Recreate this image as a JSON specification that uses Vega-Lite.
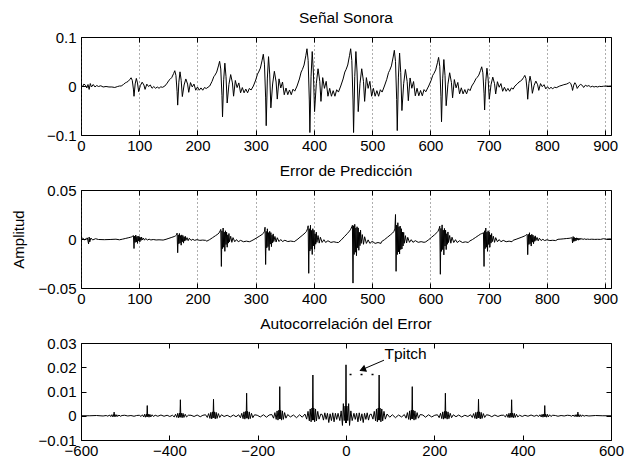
{
"$schema": "https://vega.github.io/schema/vega-lite/v6.json",
"background": "white",
"padding": {"left": 10, "top": 10, "right": 5, "bottom": 5},
"bounds": "flush",
"spacing": 55,
"config": {
 "font": "Liberation Sans",
 "view": {"stroke": "black", "strokeWidth": 1},
 "axis": {"domain": false, "grid": false, "tickColor": "black", "tickSize": -5, "tickWidth": 1, "labelColor": "black", "labelFontSize": 15, "labelFont": "Liberation Sans", "labelPadding": 10, "labelFlush": false, "labelOverlap": false, "titleFont": "Liberation Sans", "titleFontSize": 15, "titleFontWeight": "normal", "titleColor": "black", "titlePadding": 12, "format": "~g"},
 "axisX": {"labelPadding": 8, "format": "d"},
 "title": {"font": "Liberation Sans", "fontSize": 15.5, "fontWeight": "normal", "color": "black", "offset": 4, "frame": "group", "anchor": "middle"}
},
"datasets": {
"s": [
{"x":0,"y":0.002},{"x":3,"y":-0.001},{"x":5,"y":0.004},{"x":8,"y":0.001},{"x":10,"y":-0.004},{"x":12,"y":0.003},{"x":14,"y":-0.007},{"x":16,"y":0.005},{"x":18,"y":-0.002},{"x":21,"y":0.003},{"x":24,"y":-0.002},{"x":27,"y":0.001},{"x":30,"y":-0.001},{"x":34,"y":0.0005},{"x":38,"y":-0.002},{"x":43,"y":-0.001},{"x":48,"y":-0.002},{"x":53,"y":-0.002},{"x":58,"y":-0.003},{"x":63,"y":-0.001},{"x":66,"y":0},
{"x":69,"y":0},{"x":73,"y":0.0032},{"x":76,"y":0.0063},{"x":78,"y":0.0074},{"x":81,"y":0.0095},{"x":84,"y":0.0137},{"x":86,"y":0.0168},{"x":88,"y":0.0116},{"x":90,"y":-0.0063},{"x":91,"y":-0.021},{"x":93,"y":0.0042},{"x":95,"y":0.0155},{"x":97,"y":0.0063},{"x":99,"y":-0.0116},{"x":102,"y":0.0011},{"x":105,"y":0.0078},{"x":108,"y":0.0021},{"x":110,"y":-0.0069},{"x":113,"y":0.0038},{"x":116,"y":-0.0011},{"x":119,"y":0.0021},{"x":122,"y":-0.0046},{"x":125,"y":-0.0011},{"x":128,"y":-0.0046},{"x":131,"y":-0.0021},{"x":134,"y":-0.0046},{"x":137,"y":-0.0017},{"x":140,"y":-0.0027},
{"x":144,"y":0},{"x":148,"y":0.0059},{"x":151,"y":0.0117},{"x":153,"y":0.0137},{"x":156,"y":0.0176},{"x":159,"y":0.0254},{"x":161,"y":0.0312},{"x":163,"y":0.0215},{"x":165,"y":-0.0117},{"x":166,"y":-0.039},{"x":168,"y":0.0078},{"x":170,"y":0.0289},{"x":172,"y":0.0117},{"x":174,"y":-0.0215},{"x":177,"y":0.002},{"x":180,"y":0.0144},{"x":183,"y":0.0039},{"x":185,"y":-0.0129},{"x":188,"y":0.007},{"x":191,"y":-0.002},{"x":194,"y":0.0039},{"x":197,"y":-0.0086},{"x":200,"y":-0.002},{"x":203,"y":-0.0086},{"x":206,"y":-0.0039},{"x":209,"y":-0.0086},{"x":212,"y":-0.0031},{"x":215,"y":-0.0051},
{"x":221,"y":0},{"x":225,"y":0.0095},{"x":228,"y":0.0189},{"x":230,"y":0.0221},{"x":233,"y":0.0284},{"x":236,"y":0.041},{"x":238,"y":0.0504},{"x":240,"y":0.0347},{"x":242,"y":-0.0189},{"x":243,"y":-0.063},{"x":245,"y":0.0126},{"x":247,"y":0.0466},{"x":249,"y":0.0189},{"x":251,"y":-0.0347},{"x":254,"y":0.0032},{"x":257,"y":0.0233},{"x":260,"y":0.0063},{"x":262,"y":-0.0208},{"x":265,"y":0.0113},{"x":268,"y":-0.0032},{"x":271,"y":0.0063},{"x":274,"y":-0.0139},{"x":277,"y":-0.0032},{"x":280,"y":-0.0139},{"x":283,"y":-0.0063},{"x":286,"y":-0.0139},{"x":289,"y":-0.005},{"x":292,"y":-0.0082},
{"x":296,"y":0},{"x":300,"y":0.0122},{"x":303,"y":0.0243},{"x":305,"y":0.0284},{"x":308,"y":0.0365},{"x":311,"y":0.0527},{"x":313,"y":0.0648},{"x":315,"y":0.0446},{"x":317,"y":-0.0243},{"x":318,"y":-0.081},{"x":320,"y":0.0162},{"x":322,"y":0.0599},{"x":324,"y":0.0243},{"x":326,"y":-0.0446},{"x":329,"y":0.0041},{"x":332,"y":0.03},{"x":335,"y":0.0081},{"x":337,"y":-0.0267},{"x":340,"y":0.0146},{"x":343,"y":-0.0041},{"x":346,"y":0.0081},{"x":349,"y":-0.0178},{"x":352,"y":-0.0041},{"x":355,"y":-0.0178},{"x":358,"y":-0.0081},{"x":361,"y":-0.0178},{"x":364,"y":-0.0065},{"x":367,"y":-0.0105},
{"x":371,"y":0},{"x":375,"y":0.0143},{"x":378,"y":0.0285},{"x":380,"y":0.0333},{"x":383,"y":0.0428},{"x":386,"y":0.0618},{"x":388,"y":0.076},{"x":390,"y":0.0523},{"x":392,"y":-0.0285},{"x":393,"y":-0.095},{"x":395,"y":0.019},{"x":397,"y":0.0703},{"x":399,"y":0.0285},{"x":401,"y":-0.0523},{"x":404,"y":0.0048},{"x":407,"y":0.0352},{"x":410,"y":0.0095},{"x":412,"y":-0.0314},{"x":415,"y":0.0171},{"x":418,"y":-0.0048},{"x":421,"y":0.0095},{"x":424,"y":-0.0209},{"x":427,"y":-0.0048},{"x":430,"y":-0.0209},{"x":433,"y":-0.0095},{"x":436,"y":-0.0209},{"x":439,"y":-0.0076},{"x":442,"y":-0.0124},
{"x":446,"y":0},{"x":450,"y":0.0143},{"x":453,"y":0.0285},{"x":455,"y":0.0333},{"x":458,"y":0.0428},{"x":461,"y":0.0618},{"x":463,"y":0.076},{"x":465,"y":0.0523},{"x":467,"y":-0.0285},{"x":468,"y":-0.095},{"x":470,"y":0.019},{"x":472,"y":0.0703},{"x":474,"y":0.0285},{"x":476,"y":-0.0523},{"x":479,"y":0.0048},{"x":482,"y":0.0352},{"x":485,"y":0.0095},{"x":487,"y":-0.0314},{"x":490,"y":0.0171},{"x":493,"y":-0.0048},{"x":496,"y":0.0095},{"x":499,"y":-0.0209},{"x":502,"y":-0.0048},{"x":505,"y":-0.0209},{"x":508,"y":-0.0095},{"x":511,"y":-0.0209},{"x":514,"y":-0.0076},{"x":517,"y":-0.0124},
{"x":521,"y":0},{"x":525,"y":0.0137},{"x":528,"y":0.0273},{"x":530,"y":0.0319},{"x":533,"y":0.041},{"x":536,"y":0.0592},{"x":538,"y":0.0728},{"x":540,"y":0.0501},{"x":542,"y":-0.0273},{"x":543,"y":-0.091},{"x":545,"y":0.0182},{"x":547,"y":0.0673},{"x":549,"y":0.0273},{"x":551,"y":-0.0501},{"x":554,"y":0.0046},{"x":557,"y":0.0337},{"x":560,"y":0.0091},{"x":562,"y":-0.03},{"x":565,"y":0.0164},{"x":568,"y":-0.0046},{"x":571,"y":0.0091},{"x":574,"y":-0.02},{"x":577,"y":-0.0046},{"x":580,"y":-0.02},{"x":583,"y":-0.0091},{"x":586,"y":-0.02},{"x":589,"y":-0.0073},{"x":592,"y":-0.0118},
{"x":597,"y":0},{"x":601,"y":0.011},{"x":604,"y":0.0219},{"x":606,"y":0.0256},{"x":609,"y":0.0329},{"x":612,"y":0.0475},{"x":614,"y":0.0584},{"x":616,"y":0.0402},{"x":618,"y":-0.0219},{"x":619,"y":-0.073},{"x":621,"y":0.0146},{"x":623,"y":0.054},{"x":625,"y":0.0219},{"x":627,"y":-0.0402},{"x":630,"y":0.0037},{"x":633,"y":0.027},{"x":636,"y":0.0073},{"x":638,"y":-0.0241},{"x":641,"y":0.0131},{"x":644,"y":-0.0037},{"x":647,"y":0.0073},{"x":650,"y":-0.0161},{"x":653,"y":-0.0037},{"x":656,"y":-0.0161},{"x":659,"y":-0.0073},{"x":662,"y":-0.0161},{"x":665,"y":-0.0058},{"x":668,"y":-0.0095},
{"x":671,"y":0},{"x":675,"y":0.0074},{"x":678,"y":0.0147},{"x":680,"y":0.0172},{"x":683,"y":0.0221},{"x":686,"y":0.0319},{"x":688,"y":0.0392},{"x":690,"y":0.027},{"x":692,"y":-0.0147},{"x":693,"y":-0.049},{"x":695,"y":0.0098},{"x":697,"y":0.0363},{"x":699,"y":0.0147},{"x":701,"y":-0.027},{"x":704,"y":0.0025},{"x":707,"y":0.0181},{"x":710,"y":0.0049},{"x":712,"y":-0.0162},{"x":715,"y":0.0088},{"x":718,"y":-0.0025},{"x":721,"y":0.0049},{"x":724,"y":-0.0108},{"x":727,"y":-0.0025},{"x":730,"y":-0.0108},{"x":733,"y":-0.0049},{"x":736,"y":-0.0108},{"x":739,"y":-0.0039},{"x":742,"y":-0.0064},
{"x":745,"y":0},{"x":749,"y":0.0041},{"x":752,"y":0.0081},{"x":754,"y":0.0095},{"x":757,"y":0.0122},{"x":760,"y":0.0176},{"x":762,"y":0.0216},{"x":764,"y":0.0149},{"x":766,"y":-0.0081},{"x":767,"y":-0.027},{"x":769,"y":0.0054},{"x":771,"y":0.02},{"x":773,"y":0.0081},{"x":775,"y":-0.0149},{"x":778,"y":0.0014},{"x":781,"y":0.01},{"x":784,"y":0.0027},{"x":786,"y":-0.0089},{"x":789,"y":0.0049},{"x":792,"y":-0.0014},{"x":795,"y":0.0027},{"x":798,"y":-0.0059},{"x":801,"y":-0.0014},{"x":804,"y":-0.0059},{"x":807,"y":-0.0027},{"x":810,"y":-0.0059},{"x":813,"y":-0.0022},{"x":816,"y":-0.0035},
{"x":822,"y":0},{"x":826,"y":0.0014},{"x":829,"y":0.0027},{"x":831,"y":0.0032},{"x":834,"y":0.0041},{"x":837,"y":0.0059},{"x":839,"y":0.0072},{"x":841,"y":0.005},{"x":843,"y":-0.0027},{"x":844,"y":-0.009},{"x":846,"y":0.0018},{"x":848,"y":0.0067},{"x":850,"y":0.0027},{"x":852,"y":-0.005},{"x":855,"y":0.0005},{"x":858,"y":0.0033},{"x":861,"y":0.0009},{"x":863,"y":-0.003},{"x":866,"y":0.0016},{"x":869,"y":-0.0005},{"x":872,"y":0.0009},{"x":875,"y":-0.002},{"x":878,"y":-0.0005},{"x":881,"y":-0.002},{"x":884,"y":-0.0009},{"x":887,"y":-0.002},{"x":890,"y":-0.0007},{"x":893,"y":-0.0012},
{"x":897,"y":-0.0005},{"x":902,"y":0},{"x":906,"y":-0.0003},{"x":910,"y":0}
],
"e": [
{"x":0,"y":0},{"x":3,"y":0.001},{"x":6,"y":-0.001},{"x":9,"y":0.0005},{"x":11,"y":0.001},{"x":13,"y":-0.005},{"x":14,"y":0.002},{"x":15,"y":-0.003},{"x":17,"y":0.001},{"x":20,"y":-0.001},{"x":25,"y":0.0003},{"x":30,"y":-0.0005},{"x":40,"y":-0.0007},{"x":50,"y":-0.0005},{"x":60,"y":-0.0002},
{"x":66,"y":-0.0008},{"x":71,"y":-0.0002},{"x":76,"y":0.0005},{"x":81,"y":0.0012},{"x":85,"y":0.0018},{"x":87,"y":0.0022},{"x":89,"y":0.003},{"x":90,"y":0.0035},{"x":91,"y":-0.0097},{"x":92,"y":0.003},{"x":93,"y":-0.0035},{"x":94,"y":0.004},{"x":95,"y":-0.003},{"x":96,"y":0.0025},{"x":97,"y":-0.0045},{"x":98,"y":0.003},{"x":99,"y":-0.002},{"x":100,"y":0.0025},{"x":101,"y":-0.003},{"x":102,"y":0.0015},{"x":103,"y":-0.0015},{"x":104,"y":0.002},{"x":105,"y":-0.001},{"x":107,"y":0.001},{"x":109,"y":-0.0012},{"x":111,"y":0.0005},{"x":114,"y":-0.001},{"x":117,"y":-0.0002},{"x":120,"y":-0.001},{"x":124,"y":-0.0005},{"x":129,"y":-0.001},{"x":134,"y":-0.0008},{"x":139,"y":-0.001},
{"x":141,"y":-0.0011},{"x":146,"y":-0.0003},{"x":151,"y":0.0007},{"x":156,"y":0.0017},{"x":160,"y":0.0025},{"x":162,"y":0.0031},{"x":164,"y":0.0042},{"x":165,"y":0.006},{"x":166,"y":-0.014},{"x":167,"y":0.0042},{"x":168,"y":-0.0049},{"x":169,"y":0.0056},{"x":170,"y":-0.0042},{"x":171,"y":0.0035},{"x":172,"y":-0.0063},{"x":173,"y":0.0042},{"x":174,"y":-0.0028},{"x":175,"y":0.0035},{"x":176,"y":-0.0042},{"x":177,"y":0.0021},{"x":178,"y":-0.0021},{"x":179,"y":0.0028},{"x":180,"y":-0.0014},{"x":182,"y":0.0014},{"x":184,"y":-0.0017},{"x":186,"y":0.0007},{"x":189,"y":-0.0014},{"x":192,"y":-0.0003},{"x":195,"y":-0.0014},{"x":199,"y":-0.0007},{"x":204,"y":-0.0014},{"x":209,"y":-0.0011},{"x":214,"y":-0.0014},
{"x":216,"y":-0.0022},{"x":221,"y":-0.0006},{"x":226,"y":0.0014},{"x":231,"y":0.0034},{"x":235,"y":0.005},{"x":237,"y":0.0062},{"x":239,"y":0.0084},{"x":240,"y":0.0098},{"x":241,"y":-0.028},{"x":242,"y":0.0084},{"x":243,"y":-0.0098},{"x":244,"y":0.0112},{"x":245,"y":-0.0084},{"x":246,"y":0.007},{"x":247,"y":-0.0126},{"x":248,"y":0.0084},{"x":249,"y":-0.0056},{"x":250,"y":0.007},{"x":251,"y":-0.0084},{"x":252,"y":0.0042},{"x":253,"y":-0.0042},{"x":254,"y":0.0056},{"x":255,"y":-0.0028},{"x":257,"y":0.0028},{"x":259,"y":-0.0034},{"x":261,"y":0.0014},{"x":264,"y":-0.0028},{"x":267,"y":-0.0006},{"x":270,"y":-0.0028},{"x":274,"y":-0.0014},{"x":279,"y":-0.0028},{"x":284,"y":-0.0022},{"x":289,"y":-0.0028},
{"x":292,"y":-0.0021},{"x":297,"y":-0.0005},{"x":302,"y":0.0013},{"x":307,"y":0.0031},{"x":311,"y":0.0047},{"x":313,"y":0.0057},{"x":315,"y":0.0078},{"x":316,"y":0.012},{"x":317,"y":-0.026},{"x":318,"y":0.0078},{"x":319,"y":-0.0091},{"x":320,"y":0.0104},{"x":321,"y":-0.0078},{"x":322,"y":0.0065},{"x":323,"y":-0.0117},{"x":324,"y":0.0078},{"x":325,"y":-0.0052},{"x":326,"y":0.0065},{"x":327,"y":-0.0078},{"x":328,"y":0.0039},{"x":329,"y":-0.0039},{"x":330,"y":0.0052},{"x":331,"y":-0.0026},{"x":333,"y":0.0026},{"x":335,"y":-0.0031},{"x":337,"y":0.0013},{"x":340,"y":-0.0026},{"x":343,"y":-0.0005},{"x":346,"y":-0.0026},{"x":350,"y":-0.0013},{"x":355,"y":-0.0026},{"x":360,"y":-0.0021},{"x":365,"y":-0.0026},
{"x":366,"y":-0.0028},{"x":371,"y":-0.0007},{"x":376,"y":0.0018},{"x":381,"y":0.0042},{"x":385,"y":0.0063},{"x":387,"y":0.0077},{"x":389,"y":0.0105},{"x":390,"y":0.0135},{"x":391,"y":-0.035},{"x":392,"y":0.0105},{"x":393,"y":-0.0123},{"x":394,"y":0.014},{"x":395,"y":-0.0105},{"x":396,"y":0.0088},{"x":397,"y":-0.0158},{"x":398,"y":0.0105},{"x":399,"y":-0.007},{"x":400,"y":0.0088},{"x":401,"y":-0.0105},{"x":402,"y":0.0053},{"x":403,"y":-0.0053},{"x":404,"y":0.007},{"x":405,"y":-0.0035},{"x":407,"y":0.0035},{"x":409,"y":-0.0042},{"x":411,"y":0.0018},{"x":414,"y":-0.0035},{"x":417,"y":-0.0007},{"x":420,"y":-0.0035},{"x":424,"y":-0.0018},{"x":429,"y":-0.0035},{"x":434,"y":-0.0028},{"x":439,"y":-0.0035},
{"x":442,"y":-0.0036},{"x":447,"y":-0.0009},{"x":452,"y":0.0023},{"x":457,"y":0.0054},{"x":461,"y":0.0081},{"x":463,"y":0.0099},{"x":465,"y":0.0125},{"x":466,"y":0.014},{"x":467,"y":-0.045},{"x":468,"y":0.0135},{"x":469,"y":-0.0158},{"x":470,"y":0.015},{"x":471,"y":-0.0135},{"x":472,"y":0.0113},{"x":473,"y":-0.017},{"x":474,"y":0.0125},{"x":475,"y":-0.009},{"x":476,"y":0.0113},{"x":477,"y":-0.0115},{"x":478,"y":0.0068},{"x":479,"y":-0.0068},{"x":480,"y":0.009},{"x":481,"y":-0.0045},{"x":483,"y":0.0045},{"x":485,"y":-0.0054},{"x":487,"y":0.0023},{"x":490,"y":-0.0045},{"x":493,"y":-0.0009},{"x":496,"y":-0.0045},{"x":500,"y":-0.0023},{"x":505,"y":-0.0045},{"x":510,"y":-0.0036},{"x":515,"y":-0.0045},
{"x":516,"y":-0.0027},{"x":521,"y":-0.0007},{"x":526,"y":0.0017},{"x":531,"y":0.0041},{"x":535,"y":0.0061},{"x":537,"y":0.0075},{"x":539,"y":0.0102},{"x":540,"y":0.025},{"x":541,"y":-0.033},{"x":542,"y":0.0142},{"x":543,"y":-0.0159},{"x":544,"y":0.0166},{"x":545,"y":-0.0132},{"x":546,"y":0.0125},{"x":547,"y":-0.0153},{"x":548,"y":0.0132},{"x":549,"y":-0.0108},{"x":550,"y":0.0105},{"x":551,"y":-0.0102},{"x":552,"y":0.0071},{"x":553,"y":-0.0071},{"x":554,"y":0.0068},{"x":555,"y":-0.0044},{"x":557,"y":0.0034},{"x":559,"y":-0.0041},{"x":561,"y":0.0017},{"x":564,"y":-0.0034},{"x":567,"y":-0.0007},{"x":570,"y":-0.0034},{"x":574,"y":-0.0017},{"x":579,"y":-0.0034},{"x":584,"y":-0.0027},{"x":589,"y":-0.0034},
{"x":592,"y":-0.0029},{"x":597,"y":-0.0007},{"x":602,"y":0.0018},{"x":607,"y":0.0043},{"x":611,"y":0.0065},{"x":613,"y":0.0079},{"x":615,"y":0.0108},{"x":616,"y":0.013},{"x":617,"y":-0.036},{"x":618,"y":0.0108},{"x":619,"y":-0.0126},{"x":620,"y":0.0144},{"x":621,"y":-0.0108},{"x":622,"y":0.009},{"x":623,"y":-0.0162},{"x":624,"y":0.0108},{"x":625,"y":-0.0072},{"x":626,"y":0.009},{"x":627,"y":-0.0108},{"x":628,"y":0.0054},{"x":629,"y":-0.0054},{"x":630,"y":0.0072},{"x":631,"y":-0.0036},{"x":633,"y":0.0036},{"x":635,"y":-0.0043},{"x":637,"y":0.0018},{"x":640,"y":-0.0036},{"x":643,"y":-0.0007},{"x":646,"y":-0.0036},{"x":650,"y":-0.0018},{"x":655,"y":-0.0036},{"x":660,"y":-0.0029},{"x":665,"y":-0.0036},
{"x":667,"y":-0.0022},{"x":672,"y":-0.0006},{"x":677,"y":0.0014},{"x":682,"y":0.0034},{"x":686,"y":0.005},{"x":688,"y":0.0055},{"x":690,"y":0.006},{"x":691,"y":0.0065},{"x":692,"y":-0.028},{"x":693,"y":0.0084},{"x":694,"y":-0.0098},{"x":695,"y":0.0112},{"x":696,"y":-0.0084},{"x":697,"y":0.007},{"x":698,"y":-0.0126},{"x":699,"y":0.0084},{"x":700,"y":-0.0056},{"x":701,"y":0.007},{"x":702,"y":-0.0084},{"x":703,"y":0.0042},{"x":704,"y":-0.0042},{"x":705,"y":0.0056},{"x":706,"y":-0.0028},{"x":708,"y":0.0028},{"x":710,"y":-0.0034},{"x":712,"y":0.0014},{"x":715,"y":-0.0028},{"x":718,"y":-0.0006},{"x":721,"y":-0.0028},{"x":725,"y":-0.0014},{"x":730,"y":-0.0028},{"x":735,"y":-0.0022},{"x":740,"y":-0.0028},
{"x":742,"y":-0.0013},{"x":747,"y":-0.0003},{"x":752,"y":0.0008},{"x":757,"y":0.0019},{"x":761,"y":0.0029},{"x":763,"y":0.0035},{"x":765,"y":0.0045},{"x":766,"y":0.0045},{"x":767,"y":-0.016},{"x":768,"y":0.0048},{"x":769,"y":-0.0056},{"x":770,"y":0.0064},{"x":771,"y":-0.0048},{"x":772,"y":0.004},{"x":773,"y":-0.0072},{"x":774,"y":0.0048},{"x":775,"y":-0.0032},{"x":776,"y":0.004},{"x":777,"y":-0.0048},{"x":778,"y":0.0024},{"x":779,"y":-0.0024},{"x":780,"y":0.0032},{"x":781,"y":-0.0016},{"x":783,"y":0.0016},{"x":785,"y":-0.0019},{"x":787,"y":0.0008},{"x":790,"y":-0.0016},{"x":793,"y":-0.0003},{"x":796,"y":-0.0016},{"x":800,"y":-0.0008},{"x":805,"y":-0.0016},{"x":810,"y":-0.0013},{"x":815,"y":-0.0016},
{"x":819,"y":-0.0003},{"x":824,"y":-0.0001},{"x":829,"y":0.0002},{"x":834,"y":0.0005},{"x":838,"y":0.0007},{"x":840,"y":0.0009},{"x":842,"y":0.0012},{"x":843,"y":0.0014},{"x":844,"y":-0.004},{"x":845,"y":0.0025},{"x":846,"y":-0.0025},{"x":847,"y":0.0016},{"x":848,"y":-0.0022},{"x":849,"y":0.001},{"x":850,"y":-0.0018},{"x":851,"y":0.0012},{"x":852,"y":-0.0008},{"x":853,"y":0.001},{"x":854,"y":-0.0012},{"x":855,"y":0.0006},{"x":856,"y":-0.0006},{"x":857,"y":0.0008},{"x":858,"y":-0.0004},{"x":860,"y":0.0004},{"x":862,"y":-0.0005},{"x":864,"y":0.0002},{"x":867,"y":-0.0004},{"x":870,"y":-0.0001},{"x":873,"y":-0.0004},{"x":877,"y":-0.0002},{"x":882,"y":-0.0004},{"x":887,"y":-0.0003},{"x":892,"y":-0.0004},
{"x":897,"y":0.0003},{"x":902,"y":-0.0002},{"x":906,"y":0.0001},{"x":910,"y":0}
],
"r": [
{"x":-600,"y":0},{"x":-580,"y":0},{"x":-565,"y":0.0001},{"x":-550,"y":-0.0001},
{"x":-543,"y":0.0001},{"x":-539,"y":-0.0002},{"x":-536,"y":0.0003},{"x":-533,"y":-0.0003},{"x":-531,"y":0.0004},{"x":-529,"y":-0.0004},{"x":-527,"y":0.0005},{"x":-526,"y":-0.0003},{"x":-525,"y":0.0015},{"x":-524,"y":-0.0003},{"x":-523,"y":0.0005},{"x":-521,"y":-0.0004},{"x":-519,"y":0.0004},{"x":-517,"y":-0.0003},{"x":-514,"y":0.0003},{"x":-511,"y":-0.0002},{"x":-507,"y":0.0001},
{"x":-501,"y":0.0002},{"x":-494,"y":-0.0001},{"x":-487,"y":0.0001},{"x":-480,"y":-0.0002},{"x":-474,"y":0.0001},
{"x":-468,"y":0.0002},{"x":-464,"y":-0.0003},{"x":-461,"y":0.0004},{"x":-458,"y":-0.0005},{"x":-456,"y":0.0006},{"x":-454,"y":-0.0006},{"x":-452,"y":0.0007},{"x":-451,"y":-0.0004},{"x":-450,"y":0.0042},{"x":-449,"y":-0.0004},{"x":-448,"y":0.0007},{"x":-446,"y":-0.0006},{"x":-444,"y":0.0006},{"x":-442,"y":-0.0005},{"x":-439,"y":0.0004},{"x":-436,"y":-0.0003},{"x":-432,"y":0.0002},
{"x":-426,"y":-0.0002},{"x":-419,"y":0.0003},{"x":-412,"y":-0.0002},{"x":-405,"y":0.0002},{"x":-399,"y":-0.0003},
{"x":-393,"y":0.0002},{"x":-389,"y":-0.0005},{"x":-386,"y":0.0006},{"x":-383,"y":-0.0007},{"x":-381,"y":0.001},{"x":-379,"y":-0.0008},{"x":-377,"y":0.0011},{"x":-376,"y":-0.0006},{"x":-375,"y":0.0066},{"x":-374,"y":-0.0006},{"x":-373,"y":0.0011},{"x":-371,"y":-0.0008},{"x":-369,"y":0.001},{"x":-367,"y":-0.0007},{"x":-364,"y":0.0006},{"x":-361,"y":-0.0005},{"x":-357,"y":0.0002},
{"x":-351,"y":0.0002},{"x":-344,"y":-0.0003},{"x":-337,"y":0.0003},{"x":-330,"y":-0.0004},{"x":-324,"y":0.0002},
{"x":-318,"y":0.0004},{"x":-314,"y":-0.0007},{"x":-311,"y":0.0009},{"x":-308,"y":-0.0011},{"x":-306,"y":0.0014},{"x":-304,"y":-0.0013},{"x":-302,"y":0.0016},{"x":-301,"y":-0.0009},{"x":-300,"y":0.0068},{"x":-299,"y":-0.0009},{"x":-298,"y":0.0016},{"x":-296,"y":-0.0013},{"x":-294,"y":0.0014},{"x":-292,"y":-0.0011},{"x":-289,"y":0.0009},{"x":-286,"y":-0.0007},{"x":-282,"y":0.0004},
{"x":-276,"y":-0.0003},{"x":-269,"y":0.0002},{"x":-262,"y":-0.0005},{"x":-255,"y":0.0003},{"x":-249,"y":-0.0004},
{"x":-243,"y":0.0004},{"x":-239,"y":-0.0008},{"x":-236,"y":0.001},{"x":-233,"y":-0.0012},{"x":-231,"y":0.0016},{"x":-229,"y":-0.0014},{"x":-227,"y":0.0018},{"x":-226,"y":-0.001},{"x":-225,"y":0.0093},{"x":-224,"y":-0.001},{"x":-223,"y":0.0018},{"x":-221,"y":-0.0014},{"x":-219,"y":0.0016},{"x":-217,"y":-0.0012},{"x":-214,"y":0.001},{"x":-211,"y":-0.0008},{"x":-207,"y":0.0004},
{"x":-201,"y":0.0002},{"x":-194,"y":-0.0005},{"x":-187,"y":0.0004},{"x":-180,"y":-0.0006},{"x":-174,"y":0.0003},
{"x":-168,"y":0.0005},{"x":-164,"y":-0.001},{"x":-161,"y":0.0013},{"x":-158,"y":-0.0015},{"x":-156,"y":0.002},{"x":-154,"y":-0.0018},{"x":-152,"y":0.0023},{"x":-151,"y":-0.0013},{"x":-150,"y":0.012},{"x":-149,"y":-0.0013},{"x":-148,"y":0.0023},{"x":-146,"y":-0.0018},{"x":-144,"y":0.002},{"x":-142,"y":-0.0015},{"x":-139,"y":0.0013},{"x":-136,"y":-0.001},{"x":-132,"y":0.0005},
{"x":-126,"y":-0.0005},{"x":-119,"y":0.0003},{"x":-112,"y":-0.0008},{"x":-105,"y":0.0004},{"x":-99,"y":-0.0006},
{"x":-93,"y":0.0007},{"x":-89,"y":-0.0014},{"x":-86,"y":0.0018},{"x":-83,"y":-0.0021},{"x":-81,"y":0.0028},{"x":-79,"y":-0.0025},{"x":-77,"y":0.0032},{"x":-76,"y":-0.0018},{"x":-75,"y":0.0168},{"x":-74,"y":-0.0018},{"x":-73,"y":0.0032},{"x":-71,"y":-0.0025},{"x":-69,"y":0.0028},{"x":-67,"y":-0.0021},{"x":-64,"y":0.0018},{"x":-61,"y":-0.0014},{"x":-57,"y":0.0007},
{"x":-54,"y":0.0005},{"x":-51,"y":-0.0018},{"x":-48,"y":0.0012},{"x":-45,"y":-0.0015},{"x":-42,"y":0.001},{"x":-39,"y":-0.0028},{"x":-36,"y":0.0008},{"x":-33,"y":-0.002},{"x":-30,"y":0.0012},{"x":-27,"y":-0.0025},{"x":-24,"y":0.001},{"x":-21,"y":-0.0015},
{"x":-18,"y":0.001},{"x":-14,"y":-0.002},{"x":-11,"y":0.002},{"x":-8,"y":-0.004},{"x":-6,"y":0.005},{"x":-4,"y":-0.002},{"x":-2,"y":0.004},{"x":-1,"y":-0.003},
{"x":0,"y":0.021},
{"x":1,"y":-0.003},{"x":2,"y":0.004},{"x":4,"y":-0.002},{"x":6,"y":0.005},{"x":8,"y":-0.004},{"x":11,"y":0.002},{"x":14,"y":-0.002},{"x":18,"y":0.001},
{"x":21,"y":-0.0015},{"x":24,"y":0.001},{"x":27,"y":-0.0025},{"x":30,"y":0.0012},{"x":33,"y":-0.002},{"x":36,"y":0.0008},{"x":39,"y":-0.0028},{"x":42,"y":0.001},{"x":45,"y":-0.0015},{"x":48,"y":0.0012},{"x":51,"y":-0.0018},{"x":54,"y":0.0005},
{"x":57,"y":0.0007},{"x":61,"y":-0.0014},{"x":64,"y":0.0018},{"x":67,"y":-0.0021},{"x":69,"y":0.0028},{"x":71,"y":-0.0025},{"x":73,"y":0.0032},{"x":74,"y":-0.0018},{"x":75,"y":0.0168},{"x":76,"y":-0.0018},{"x":77,"y":0.0032},{"x":79,"y":-0.0025},{"x":81,"y":0.0028},{"x":83,"y":-0.0021},{"x":86,"y":0.0018},{"x":89,"y":-0.0014},{"x":93,"y":0.0007},
{"x":99,"y":-0.0006},{"x":105,"y":0.0004},{"x":112,"y":-0.0008},{"x":119,"y":0.0003},{"x":126,"y":-0.0005},
{"x":132,"y":0.0005},{"x":136,"y":-0.001},{"x":139,"y":0.0013},{"x":142,"y":-0.0015},{"x":144,"y":0.002},{"x":146,"y":-0.0018},{"x":148,"y":0.0023},{"x":149,"y":-0.0013},{"x":150,"y":0.012},{"x":151,"y":-0.0013},{"x":152,"y":0.0023},{"x":154,"y":-0.0018},{"x":156,"y":0.002},{"x":158,"y":-0.0015},{"x":161,"y":0.0013},{"x":164,"y":-0.001},{"x":168,"y":0.0005},
{"x":174,"y":0.0003},{"x":180,"y":-0.0006},{"x":187,"y":0.0004},{"x":194,"y":-0.0005},{"x":201,"y":0.0002},
{"x":207,"y":0.0004},{"x":211,"y":-0.0008},{"x":214,"y":0.001},{"x":217,"y":-0.0012},{"x":219,"y":0.0016},{"x":221,"y":-0.0014},{"x":223,"y":0.0018},{"x":224,"y":-0.001},{"x":225,"y":0.0093},{"x":226,"y":-0.001},{"x":227,"y":0.0018},{"x":229,"y":-0.0014},{"x":231,"y":0.0016},{"x":233,"y":-0.0012},{"x":236,"y":0.001},{"x":239,"y":-0.0008},{"x":243,"y":0.0004},
{"x":249,"y":-0.0004},{"x":255,"y":0.0003},{"x":262,"y":-0.0005},{"x":269,"y":0.0002},{"x":276,"y":-0.0003},
{"x":282,"y":0.0004},{"x":286,"y":-0.0007},{"x":289,"y":0.0009},{"x":292,"y":-0.0011},{"x":294,"y":0.0014},{"x":296,"y":-0.0013},{"x":298,"y":0.0016},{"x":299,"y":-0.0009},{"x":300,"y":0.0068},{"x":301,"y":-0.0009},{"x":302,"y":0.0016},{"x":304,"y":-0.0013},{"x":306,"y":0.0014},{"x":308,"y":-0.0011},{"x":311,"y":0.0009},{"x":314,"y":-0.0007},{"x":318,"y":0.0004},
{"x":324,"y":0.0002},{"x":330,"y":-0.0004},{"x":337,"y":0.0003},{"x":344,"y":-0.0003},{"x":351,"y":0.0002},
{"x":357,"y":0.0002},{"x":361,"y":-0.0005},{"x":364,"y":0.0006},{"x":367,"y":-0.0007},{"x":369,"y":0.001},{"x":371,"y":-0.0008},{"x":373,"y":0.0011},{"x":374,"y":-0.0006},{"x":375,"y":0.0066},{"x":376,"y":-0.0006},{"x":377,"y":0.0011},{"x":379,"y":-0.0008},{"x":381,"y":0.001},{"x":383,"y":-0.0007},{"x":386,"y":0.0006},{"x":389,"y":-0.0005},{"x":393,"y":0.0002},
{"x":399,"y":-0.0003},{"x":405,"y":0.0002},{"x":412,"y":-0.0002},{"x":419,"y":0.0003},{"x":426,"y":-0.0002},
{"x":432,"y":0.0002},{"x":436,"y":-0.0003},{"x":439,"y":0.0004},{"x":442,"y":-0.0005},{"x":444,"y":0.0006},{"x":446,"y":-0.0006},{"x":448,"y":0.0007},{"x":449,"y":-0.0004},{"x":450,"y":0.0042},{"x":451,"y":-0.0004},{"x":452,"y":0.0007},{"x":454,"y":-0.0006},{"x":456,"y":0.0006},{"x":458,"y":-0.0005},{"x":461,"y":0.0004},{"x":464,"y":-0.0003},{"x":468,"y":0.0002},
{"x":474,"y":0.0001},{"x":480,"y":-0.0002},{"x":487,"y":0.0001},{"x":494,"y":-0.0001},{"x":501,"y":0.0002},
{"x":507,"y":0.0001},{"x":511,"y":-0.0002},{"x":514,"y":0.0003},{"x":517,"y":-0.0003},{"x":519,"y":0.0004},{"x":521,"y":-0.0004},{"x":523,"y":0.0005},{"x":524,"y":-0.0003},{"x":525,"y":0.0015},{"x":526,"y":-0.0003},{"x":527,"y":0.0005},{"x":529,"y":-0.0004},{"x":531,"y":0.0004},{"x":533,"y":-0.0003},{"x":536,"y":0.0003},{"x":539,"y":-0.0002},{"x":543,"y":0.0001},
{"x":550,"y":-0.0001},{"x":565,"y":0.0001},{"x":580,"y":0},{"x":600,"y":0}
]
},
"vconcat": [
{
 "width": 530, "height": 98,
 "title": "Señal Sonora",
 "data": {"name": "s"},
 "layer": [
  {"mark": {"type": "line", "color": "black", "strokeWidth": 1},
   "encoding": {
    "x": {"field": "x", "type": "quantitative", "scale": {"domain": [0, 910], "nice": false, "zero": false}, "axis": {"values": [0,100,200,300,400,500,600,700,800,900], "grid": true, "gridDash": [1,3], "gridColor": "#333333", "gridWidth": 0.8, "title": null}},
    "y": {"field": "y", "type": "quantitative", "scale": {"domain": [-0.1, 0.1], "nice": false}, "axis": {"values": [-0.1, 0, 0.1], "title": null}}
   }},
  {"mark": {"type": "line", "opacity": 0},
   "encoding": {
    "x": {"field": "x", "type": "quantitative", "scale": {"domain": [0, 910], "nice": false, "zero": false}, "axis": {"orient": "top", "labels": false, "values": [0,100,200,300,400,500,600,700,800,900], "title": null}},
    "y": {"field": "y", "type": "quantitative", "scale": {"domain": [-0.1, 0.1], "nice": false}, "axis": {"orient": "right", "labels": false, "values": [-0.1, 0, 0.1], "title": null}}
   }}
 ],
 "resolve": {"axis": {"x": "independent", "y": "independent"}}
},
{
 "width": 530, "height": 98,
 "title": "Error de Predicción",
 "data": {"name": "e"},
 "layer": [
  {"mark": {"type": "line", "color": "black", "strokeWidth": 1},
   "encoding": {
    "x": {"field": "x", "type": "quantitative", "scale": {"domain": [0, 910], "nice": false, "zero": false}, "axis": {"values": [0,100,200,300,400,500,600,700,800,900], "grid": true, "gridDash": [1,3], "gridColor": "#333333", "gridWidth": 0.8, "title": null}},
    "y": {"field": "y", "type": "quantitative", "scale": {"domain": [-0.05, 0.05], "nice": false}, "axis": {"values": [-0.05, 0, 0.05], "title": "Amplitud"}}
   }},
  {"mark": {"type": "line", "opacity": 0},
   "encoding": {
    "x": {"field": "x", "type": "quantitative", "scale": {"domain": [0, 910], "nice": false, "zero": false}, "axis": {"orient": "top", "labels": false, "values": [0,100,200,300,400,500,600,700,800,900], "title": null}},
    "y": {"field": "y", "type": "quantitative", "scale": {"domain": [-0.05, 0.05], "nice": false}, "axis": {"orient": "right", "labels": false, "values": [-0.05, 0, 0.05], "title": null}}
   }}
 ],
 "resolve": {"axis": {"x": "independent", "y": "independent"}}
},
{
 "width": 530, "height": 97,
 "title": "Autocorrelación del Error",
 "layer": [
  {"data": {"name": "r"},
   "mark": {"type": "line", "color": "black", "strokeWidth": 1},
   "encoding": {
    "x": {"field": "x", "type": "quantitative", "scale": {"domain": [-600, 600], "nice": false, "zero": false}, "axis": {"values": [-600,-400,-200,0,200,400,600], "title": null}},
    "y": {"field": "y", "type": "quantitative", "scale": {"domain": [-0.01, 0.03], "nice": false}, "axis": {"values": [-0.01, 0, 0.01, 0.02, 0.03], "title": null}}
   }},
  {"data": {"name": "r"},
   "mark": {"type": "line", "opacity": 0},
   "encoding": {
    "x": {"field": "x", "type": "quantitative", "scale": {"domain": [-600, 600], "nice": false, "zero": false}, "axis": {"orient": "top", "labels": false, "values": [-600,-400,-200,0,200,400,600], "title": null}},
    "y": {"field": "y", "type": "quantitative", "scale": {"domain": [-0.01, 0.03], "nice": false}, "axis": {"orient": "right", "labels": false, "values": [-0.01, 0, 0.01, 0.02, 0.03], "title": null}}
   }},
  {"data": {"values": [{"x": 8, "x2": 75, "y": 0.017}]},
   "mark": {"type": "rule", "color": "black", "strokeWidth": 1.3, "strokeDash": [2, 9]},
   "encoding": {
    "x": {"field": "x", "type": "quantitative", "scale": {"domain": [-600, 600], "nice": false, "zero": false}, "axis": null},
    "x2": {"field": "x2"},
    "y": {"field": "y", "type": "quantitative", "scale": {"domain": [-0.01, 0.03], "nice": false}, "axis": null}
   }},
  {"data": {"values": [{"x": 86, "y": 0.0229, "x2": 36, "y2": 0.019}]},
   "mark": {"type": "rule", "color": "black", "strokeWidth": 1},
   "encoding": {
    "x": {"field": "x", "type": "quantitative", "scale": {"domain": [-600, 600], "nice": false, "zero": false}, "axis": null},
    "x2": {"field": "x2"},
    "y": {"field": "y", "type": "quantitative", "scale": {"domain": [-0.01, 0.03], "nice": false}, "axis": null},
    "y2": {"field": "y2"}
   }},
  {"data": {"values": [{"x": 38, "y": 0.0191}]},
   "mark": {"type": "point", "shape": "triangle-up", "filled": true, "fill": "black", "stroke": "black", "strokeWidth": 1, "size": 35, "angle": 248, "opacity": 1},
   "encoding": {
    "x": {"field": "x", "type": "quantitative", "scale": {"domain": [-600, 600], "nice": false, "zero": false}, "axis": null},
    "y": {"field": "y", "type": "quantitative", "scale": {"domain": [-0.01, 0.03], "nice": false}, "axis": null}
   }},
  {"data": {"values": [{"x": 87, "y": 0.0232, "t": "Tpitch"}]},
   "mark": {"type": "text", "align": "left", "baseline": "alphabetic", "fontSize": 15.5, "color": "black", "font": "Liberation Sans"},
   "encoding": {
    "x": {"field": "x", "type": "quantitative", "scale": {"domain": [-600, 600], "nice": false, "zero": false}, "axis": null},
    "y": {"field": "y", "type": "quantitative", "scale": {"domain": [-0.01, 0.03], "nice": false}, "axis": null},
    "text": {"field": "t"}
   }}
 ],
 "resolve": {"axis": {"x": "independent", "y": "independent"}}
}
]
}
